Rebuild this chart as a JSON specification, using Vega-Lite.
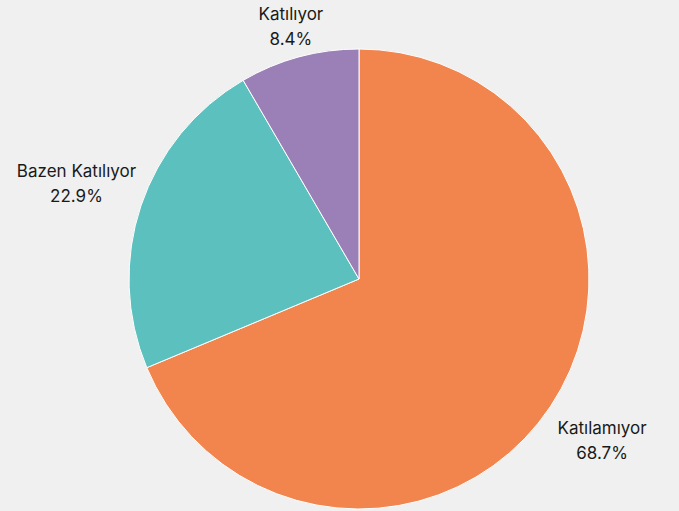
{
  "$schema": "https://vega.github.io/schema/vega-lite/v6.json",
  "width": 640,
  "height": 460,
  "autosize": {"type": "none"},
  "padding": {"left": 39, "top": 49, "right": 0, "bottom": 2},
  "background": "#eff0ef",
  "config": {"view": {"stroke": null}},
  "data": {
    "values": [
      {"cat": "Katılamıyor", "pct": 68.7, "label": "Katılamıyor\n68.7%", "order": 1},
      {"cat": "Bazen Katılıyor", "pct": 22.9, "label": "Bazen Katılıyor\n22.9%", "order": 2},
      {"cat": "Katılıyor", "pct": 8.4, "label": "Katılıyor\n8.4%", "order": 3}
    ]
  },
  "encoding": {
    "theta": {"field": "pct", "type": "quantitative", "stack": true},
    "order": {"field": "order", "type": "quantitative"},
    "color": {
      "field": "cat", "type": "nominal", "legend": null,
      "scale": {"domain": ["Katılamıyor", "Bazen Katılıyor", "Katılıyor"], "range": ["#f2854e", "#5bc0be", "#9b80b8"]}
    }
  },
  "layer": [
    {"mark": {"type": "arc", "outerRadius": 230, "stroke": "#ffffff", "strokeWidth": 1}},
    {
      "mark": {"type": "text", "radius": 292, "dy": -12, "lineBreak": "\n", "font": "Inter", "fontSize": 17, "lineHeight": 25, "align": "center", "baseline": "middle"},
      "encoding": {"color": {"value": "#1a1a1a"}, "text": {"condition": {"test": "datum.cat === 'Katılamıyor'", "field": "label"}, "value": ""}}
    },
    {
      "mark": {"type": "text", "radius": 298, "dy": -12, "lineBreak": "\n", "font": "Inter", "fontSize": 17, "lineHeight": 25, "align": "center", "baseline": "middle"},
      "encoding": {"color": {"value": "#1a1a1a"}, "text": {"condition": {"test": "datum.cat === 'Bazen Katılıyor'", "field": "label"}, "value": ""}}
    },
    {
      "mark": {"type": "text", "radius": 261, "dy": -12, "lineBreak": "\n", "font": "Inter", "fontSize": 17, "lineHeight": 25, "align": "center", "baseline": "middle"},
      "encoding": {"color": {"value": "#1a1a1a"}, "text": {"condition": {"test": "datum.cat === 'Katılıyor'", "field": "label"}, "value": ""}}
    }
  ]
}
